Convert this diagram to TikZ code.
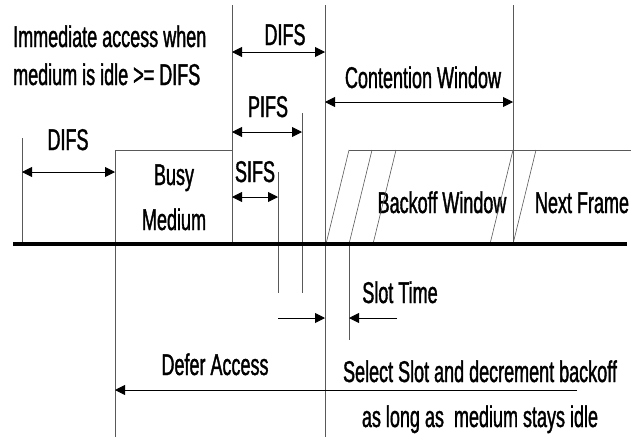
\documentclass[tikz,border=0pt]{standalone}
\usepackage{fontspec}
\setmainfont{Liberation Sans}[FakeStretch=0.6,FakeBold=1.2]
\usetikzlibrary{arrows.meta}

\tikzset{
  tick/.style={draw=black!65, line width=0.6pt},
  dimline/.style={line width=0.9pt, {Triangle[length=10pt,width=10pt]}-{Triangle[length=10pt,width=10pt]}},
  oneway/.style={line width=0.9pt, -{Triangle[length=10pt,width=10pt]}},
  lbl/.style={anchor=base, inner sep=0pt, font=\fontsize{30}{36}\selectfont},
}

\begin{document}
\begin{tikzpicture}[x=1pt,y=-1pt]
\useasboundingbox (0,0) rectangle (631,437);

% time marks on the medium
\coordinate (t0) at (22,244);
\coordinate (t1) at (115,244);
\coordinate (t2) at (232,244);
\coordinate (t3) at (278,244);
\coordinate (t4) at (302,244);
\coordinate (t5) at (325,244);
\coordinate (t6) at (349,244);
\coordinate (t7) at (513,244);
\coordinate (m0) at (13,244);
\coordinate (m1) at (627,244);

%% texts
\node[lbl, anchor=base west] (imm) at (13,47) {Immediate access when};
\node[lbl, anchor=base west] (idle) at (13,85) {medium is idle >= DIFS};
\node[lbl] (difsA) at (285,45) {DIFS};
\node[lbl] (pifs) at (268,117) {PIFS};
\node[lbl] (difsB) at (68,150) {DIFS};
\node[lbl] (sifs) at (255,182) {SIFS};
\node[lbl] (busy) at (174,185) {Busy};
\node[lbl] (medium) at (174,230) {Medium};
\node[lbl] (cw) at (423,88) {Contention Window};
\node[lbl] (bw) at (442,213) {Backoff Window};
\node[lbl] (nf) at (582,213) {Next Frame};
\node[lbl] (slot) at (400,303) {Slot Time};
\node[lbl] (defer) at (215,375) {Defer Access};
\node[lbl] (sel) at (480,382) {Select Slot and decrement backoff};
\node[lbl] (long) at (480,427) {as long as\ \ medium stays idle};

%% vertical marks
\draw[tick] (t0 |- 0,138) -- (t0);
\draw[tick] (t1 |- 0,437) -- (t1 |- 0,150) -- (t2 |- 0,150);
\draw[tick] (t2 |- 0,5) -- (t2);
\draw[tick] (t3 |- 0,172) -- (t3 |- 0,293);
\draw[tick] (t4 |- 0,113) -- (t4 |- 0,293);
\draw[tick] (t5 |- 0,5) -- (t5 |- 0,437);
\draw[tick] (t7 |- 0,5) -- (t7);
\draw[tick] (t6) -- (t6 |- 0,340);

%% backoff slots
\draw[tick] (t6 |- 0,150) -- (631,150);
\foreach \x in {326,349,373,490,513}
  \draw[tick] (\x,244) -- ++(23,-94);

%% the medium
\draw[line width=4pt] (m0) -- (m1);

%% intervals
\draw[dimline] (t2 |- 0,52) -- (t5 |- 0,52);
\draw[dimline] (t2 |- 0,132) -- (t4 |- 0,132);
\draw[dimline] (t2 |- 0,197) -- (t3 |- 0,197);
\draw[dimline] (t0 |- 0,172) -- (t1 |- 0,172);
\draw[dimline] (t5 |- 0,102) -- (t7 |- 0,102);
\draw[oneway] (t3 |- 0,318) -- (t5 |- 0,318);
\draw[oneway] (397,318) -- (t6 |- 0,318);
\draw[oneway] (577,390) -- (t1 |- 0,390);
\end{tikzpicture}
\end{document}
